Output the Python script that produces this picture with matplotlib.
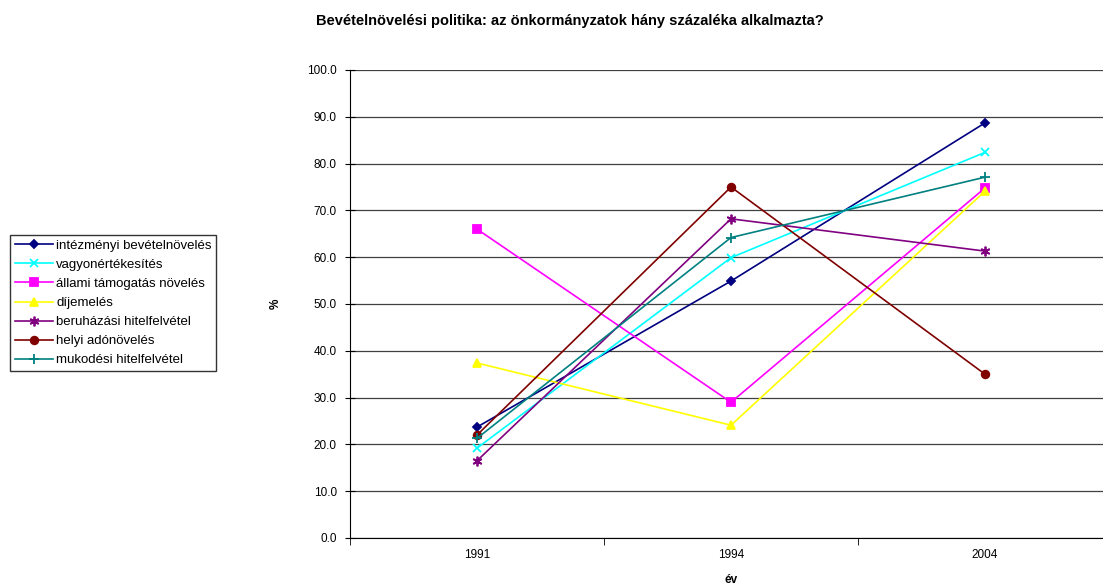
import matplotlib
matplotlib.use("Agg")
import matplotlib.pyplot as plt
import numpy as np

plt.rcParams['font.family'] = ['Liberation Sans', 'DejaVu Sans']

years = ['1991', '1994', '2004']

intezmenyi = [23.7, 54.9, 88.7]
vagyon = [19.2, 59.9, 82.4]
allami = [66.0, 29.0, 74.8]
dijemeles = [37.4, 24.1, 74.1]
beruhazasi = [16.5, 68.2, 61.3]
helyi = [22.0, 75.0, 35.0]
mukodesi = [21.3, 64.2, 77.1]

series = [
    ('intézményi bevételnövelés', intezmenyi, '#000080', 'D', 4.5),
    ('vagyonértékesítés', vagyon, '#00FFFF', 'x', 5.5),
    ('állami támogatás növelés', allami, '#FF00FF', 's', 5.5),
    ('díjemelés', dijemeles, '#FFFF00', '^', 6),
    ('beruházási hitelfelvétel', beruhazasi, '#800080', (6, 2, 0), 7),
    ('helyi adónövelés', helyi, '#800000', 'o', 5.5),
    ('mukodési hitelfelvétel', mukodesi, '#008080', '+', 7),
]

fig = plt.figure(figsize=(11.03, 5.84), dpi=100)
ax = fig.add_axes([350 / 1103, 1 - 538 / 584, 762 / 1103, 468 / 584])

x = np.arange(len(years))
for name, vals, col, mk, ms in series:
    ax.plot(x, vals, color=col, marker=mk, markersize=ms, linewidth=1.2,
            markerfacecolor=col, markeredgecolor=col, markeredgewidth=1.3,
            label=name, zorder=3)

ax.set_xlim(-0.5, 2.5)
ax.set_ylim(0, 100)
ax.set_yticks(np.arange(0, 101, 10))
ax.set_yticklabels(['%.1f' % v for v in np.arange(0, 101, 10)], fontsize=8.5)
ax.yaxis.grid(True, color='#404040', linewidth=0.9)
ax.set_axisbelow(True)

ax.set_xticks(x)
ax.set_xticklabels(years, fontsize=8.5)
ax.tick_params(axis='x', length=0, pad=8)
ax.set_xticks([-0.5, 0.5, 1.5, 2.5], minor=True)
ax.tick_params(axis='x', which='minor', length=5, direction='out', color='black')
ax.tick_params(axis='y', length=7, direction='inout', color='black', pad=6)

for s in ['top', 'right']:
    ax.spines[s].set_visible(False)
ax.spines['left'].set_color('black')
ax.spines['bottom'].set_color('black')

ax.set_ylabel('%', fontsize=8.5, fontweight='bold', labelpad=18)
ax.set_xlabel('év', fontsize=8.5, fontweight='bold', labelpad=9)

fig.suptitle('Bevételnövelési politika: az önkormányzatok hány százaléka alkalmazta?',
             fontsize=10.5, fontweight='bold', x=570 / 1103, y=1 - 21 / 584, va='center')

leg = fig.legend(loc='upper left', bbox_to_anchor=(10 / 1103, 1 - 235 / 584),
                 fontsize=9.5, frameon=True, fancybox=False, edgecolor='black',
                 handlelength=2.9, handletextpad=0.25, labelspacing=0.52,
                 borderpad=0.35, borderaxespad=0)
leg.get_frame().set_linewidth(1.0)

fig.savefig('out.png', dpi=100)
